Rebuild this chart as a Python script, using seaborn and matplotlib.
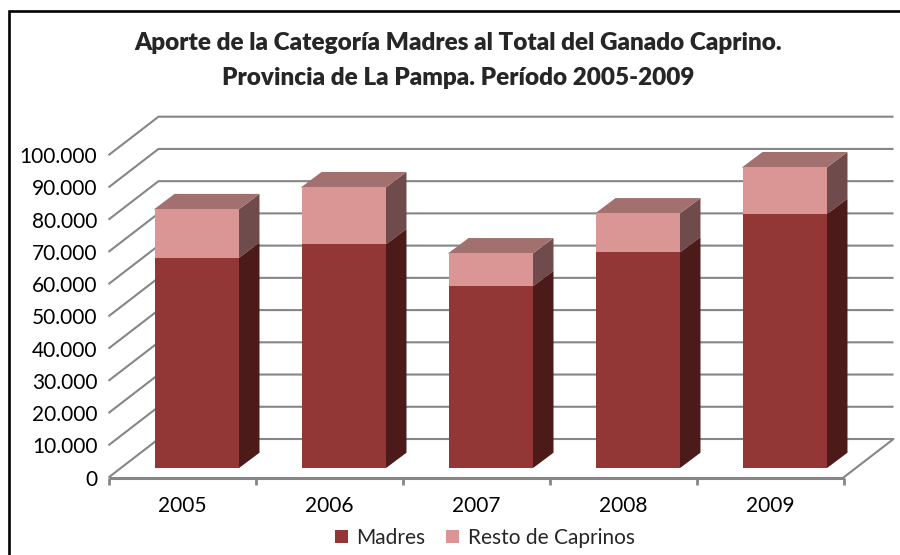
import matplotlib
matplotlib.use("Agg")
import matplotlib.pyplot as plt
from matplotlib.patches import Polygon, Rectangle
import seaborn as sns

years = ["2005", "2006", "2007", "2008", "2009"]
madres = [65200, 69400, 56400, 66900, 78800]
resto = [15100, 17700, 10200, 12100, 14500]
y_ticks = [0, 10000, 20000, 30000, 40000, 50000, 60000, 70000, 80000, 90000, 100000]
y_labels = ["0", "10.000", "20.000", "30.000", "40.000", "50.000",
            "60.000", "70.000", "80.000", "90.000", "100.000"]
title = "Aporte de la Categoría Madres al Total del Ganado Caprino.\nProvincia de La Pampa. Período 2005-2009"

W, H = 900, 555
sns.set_style("white")
plt.rcParams["font.family"] = ["Lato", "DejaVu Sans"]

fig = plt.figure(figsize=(W / 100, H / 100), dpi=100, facecolor="white")
L, R, B, T = 108.5, 843.5, 477.5, 155.2
ax = fig.add_axes([L / W, 1 - B / H, (R - L) / W, (B - T) / H])
ax.patch.set_alpha(0)

PX_X = (R - L) / 5
PX_Y = (B - T) / 100000
wall_dx, wall_dy = 50 / PX_X, 38.5 / PX_Y
depth_dx, depth_dy = 20 / PX_X, 15 / PX_Y
shift_x, shift_y = 15 / PX_X, 9.8 / PX_Y
overlap_x, overlap_y = 1 / PX_X, 1 / PX_Y

C_MADRES, C_RESTO = "#923735", "#D99695"
C_MADRES_SIDE, C_RESTO_SIDE = "#4D1A1A", "#6F4C4B"
C_TOP = "#A2706F"
GRID = "#868686"

sns.barplot(x=years, y=madres, color=C_MADRES, saturation=1, width=0.578,
            label="Madres", errorbar=None, ax=ax, zorder=3, legend=False)
n_before = len(ax.patches)
sns.barplot(x=years, y=resto, bottom=madres, color=C_RESTO, saturation=1, width=0.578,
            label="Resto de Caprinos", errorbar=None, ax=ax, zorder=3, legend=False)

ax.set_xlim(-0.5, 4.5)
ax.set_ylim(0, 100000)

# walls
for v in y_ticks:
    ax.plot([-0.5, -0.5 + wall_dx, 4.5 + wall_dx], [v, v + wall_dy, v + wall_dy],
            color=GRID, lw=1.5, clip_on=False, zorder=1, solid_capstyle="butt", solid_joinstyle="miter")
ax.plot([4.5, 4.5 + wall_dx], [0, wall_dy], color=GRID, lw=1.5, clip_on=False, zorder=1)
ax.plot([-0.5, 4.5], [0, 0], color=GRID, lw=2.2, clip_on=False, zorder=2, solid_capstyle="butt")

# 3D bars
for i, p in enumerate(list(ax.patches)):
    p.set_clip_on(False)
    p.set_linewidth(0)
    p.set_x(p.get_x() + shift_x)
    p.set_y(p.get_y() + shift_y)
    x0, x1 = p.get_x(), p.get_x() + p.get_width()
    y0, y1 = p.get_y(), p.get_y() + p.get_height()
    side = C_MADRES_SIDE if i < n_before else C_RESTO_SIDE
    ax.add_patch(Polygon([(x1 - overlap_x, y0), (x1, y0), (x1 + depth_dx, y0 + depth_dy),
                          (x1 + depth_dx, y1 + depth_dy), (x1, y1), (x1 - overlap_x, y1)],
                         closed=True, fc=side, ec="none", clip_on=False,
                         zorder=2.8 if i < n_before else 2.7))
    if i >= n_before:
        ax.add_patch(Polygon([(x0, y1 - overlap_y), (x0, y1), (x0 + depth_dx, y1 + depth_dy),
                              (x1 + depth_dx, y1 + depth_dy), (x1, y1), (x1, y1 - overlap_y)],
                             closed=True, fc=C_TOP, ec="none", clip_on=False, zorder=2.8))

for s in ax.spines.values():
    s.set_visible(False)
ax.set_yticks(y_ticks, y_labels)
ax.set_xticks(range(5), years)
ax.set_xticks([-0.5, 0.5, 1.5, 2.5, 3.5, 4.5], minor=True)
ax.tick_params(axis="y", length=0, pad=8, labelsize=15, colors="black")
ax.tick_params(axis="x", which="major", length=0, pad=13, labelsize=15, colors="black")
ax.tick_params(axis="x", which="minor", length=5, width=2, color=GRID, bottom=True)
ax.grid(False)

h = [ax.patches[0], ax.patches[n_before]]
fig.legend(h, ["Madres", "Resto de Caprinos"], ncol=2, frameon=False,
           loc="center", bbox_to_anchor=(485 / W, 1 - 538 / H), fontsize=15,
           handlelength=0.62, handleheight=0.62, handletextpad=0.42, columnspacing=1.0)

fig.suptitle(title, x=458.5 / W, y=1 - 60.5 / H, va="center", ha="center",
             fontsize=17.5, fontweight="heavy", linespacing=1.68)

fig.add_artist(Rectangle((8.5 / W, 1 - 575 / H), 920 / W, 564 / H, transform=fig.transFigure,
                         fc="none", ec="black", lw=1.9))

fig.savefig("out.png", dpi=100, facecolor="white")
